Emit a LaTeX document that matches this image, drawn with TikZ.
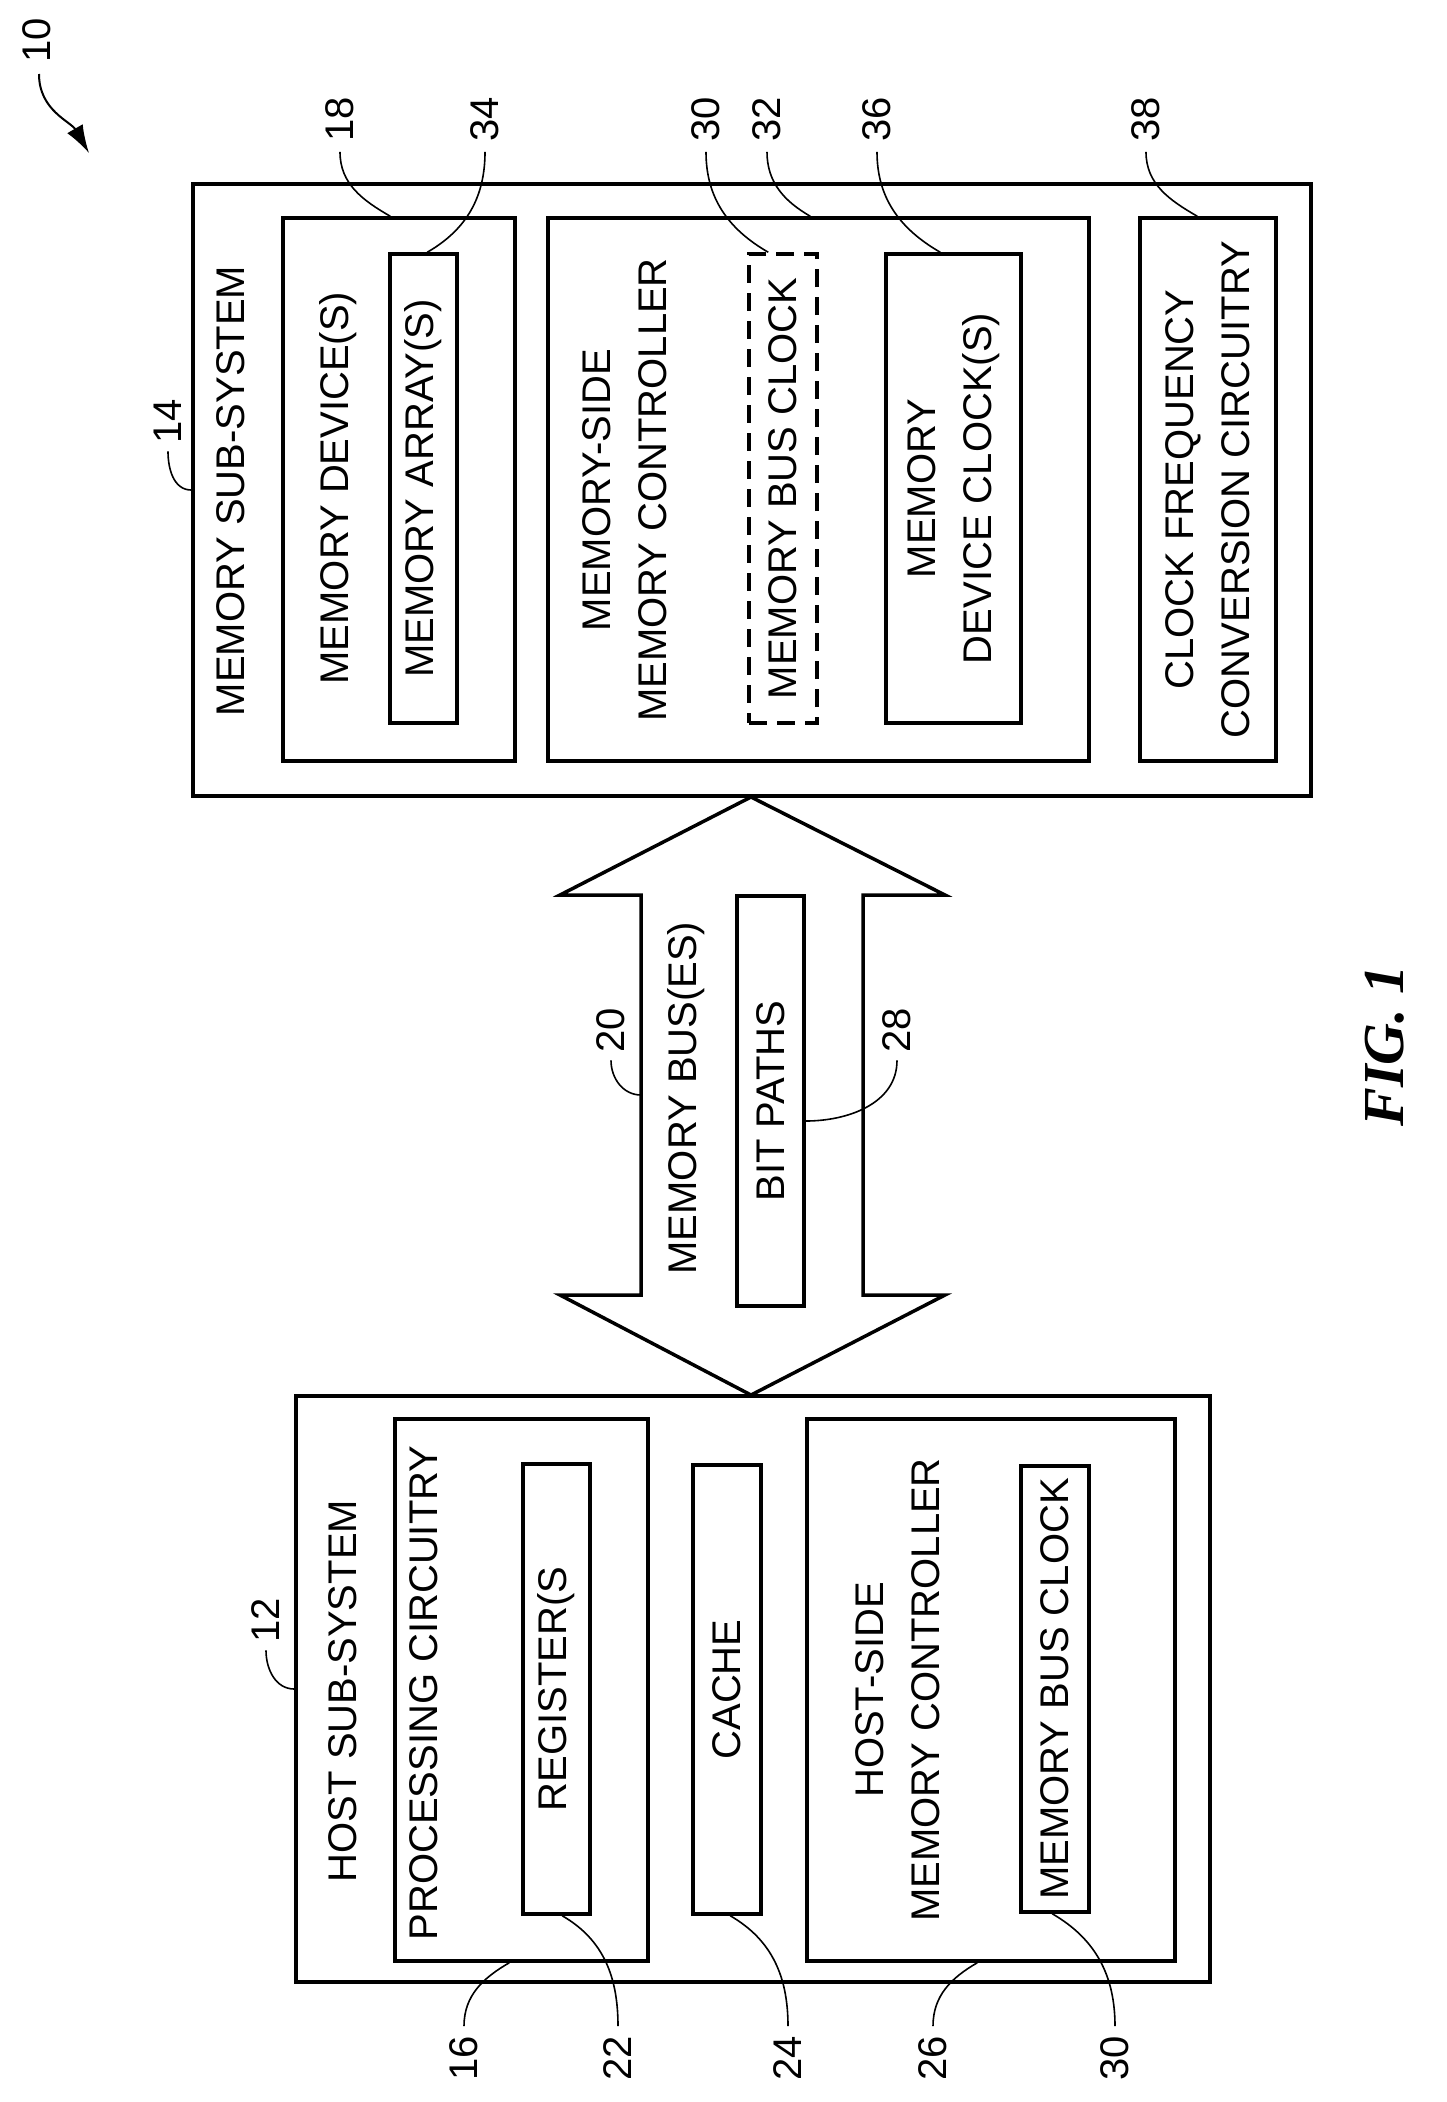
\documentclass[tikz,border=0pt]{standalone}
\usepackage{fontspec}
\setmainfont{Liberation Sans}
\newfontfamily\figserif{Liberation Serif}
\usetikzlibrary{arrows.meta}
\newcommand{\lw}{3.5pt}
\tikzstyle{boite}=[draw, line width=\lw, inner sep=0, minimum size=0]
\tikzstyle{texte}=[rotate=90, inner sep=0, align=center, font=\fontsize{40}{56}\selectfont]
\tikzstyle{renvoi}=[line width=1.6pt]
\tikzstyle{pointille}=[boite, dash pattern=on 18pt off 10pt]
\begin{document}
\begin{tikzpicture}[x=1pt,y=-1pt]
\useasboundingbox (0,0) rectangle (1446,2102);

%sous-systeme memoire
\node[boite, minimum width=1118pt, minimum height=612pt] (mem) at (752,490) {};
\node[boite, minimum width=232pt, minimum height=543pt] (dev) at (399,489.5) {};
\node[boite, minimum width=67pt, minimum height=469pt] (arr) at (423.5,488.5) {};
\node[boite, minimum width=541pt, minimum height=543pt] (ctl) at (818.5,489.5) {};
\node[pointille, minimum width=68pt, minimum height=469pt] (mbc) at (783,488.5) {};
\node[boite, minimum width=135pt, minimum height=469pt] (mdc) at (953.5,488.5) {};
\node[boite, minimum width=136pt, minimum height=543pt] (cfc) at (1208,489.5) {};

\node[texte] (tmem) at (231,491) {MEMORY SUB-SYSTEM};
\node[texte] (tdev) at (338,488) {MEMORY DEVICE(S)};
\node[texte] (tarr) at (arr) {MEMORY ARRAY(S)};
\node[texte] (tctl) at (625,490) {MEMORY-SIDE\\MEMORY CONTROLLER};
\node[texte] (tmbc) at (mbc) {MEMORY BUS CLOCK};
\node[texte] (tmdc) at (mdc) {MEMORY\\DEVICE CLOCK(S)};
\node[texte] (tcfc) at (cfc) {CLOCK FREQUENCY\\CONVERSION CIRCUITRY};

%bus
\draw[line width=\lw, join=miter] (751,797) -- (945,895) -- (863,895) -- (863,1295) -- (945,1295)
  -- (751,1395) -- (560,1295) -- (641,1295) -- (641,895) -- (560,895) -- cycle;
\coordinate (bus) at (641,1095);
\node[boite, minimum width=67pt, minimum height=410pt] (bp) at (770.5,1101) {};
\node[texte] (tbus) at (686,1098) {MEMORY BUS(ES)};
\node[texte] (tbp) at (bp) {BIT PATHS};

%sous-systeme hote
\node[boite, minimum width=914pt, minimum height=586pt] (host) at (753,1689) {};
\node[boite, minimum width=253pt, minimum height=542pt] (proc) at (521.5,1690) {};
\node[boite, minimum width=67pt, minimum height=450pt] (reg) at (556.5,1689) {};
\node[boite, minimum width=68pt, minimum height=449pt] (cache) at (727,1689.5) {};
\node[boite, minimum width=368pt, minimum height=542pt] (hctl) at (991,1690) {};
\node[boite, minimum width=68pt, minimum height=446pt] (hmbc) at (1055,1689) {};

\node[texte] (thost) at (343,1691) {HOST SUB-SYSTEM};
\node[texte] (tproc) at (424,1693) {PROCESSING CIRCUITRY};
\node[texte] (treg) at (reg) {REGISTER(S};
\node[texte] (tcache) at (cache) {CACHE};
\node[texte] (thctl) at (898,1690) {HOST-SIDE\\MEMORY CONTROLLER};
\node[texte] (thmbc) at (hmbc) {MEMORY BUS CLOCK};

%renvois
\node[texte] (l10) at (37,40) {10};
\draw[renvoi, line width=2pt, -{Latex[length=28pt,width=18pt]}] (39,74) to[out=-90,in=120] (89,153);

\foreach \N/\X/\B/\D/\A in {18/340/dev/109/150, 34/485/arr/39/30, 30/706/mbc/21/150,
  32/767/ctl/264/150, 36/877/mdc/56/150, 38/1146/cfc/59/150}
{\node[texte, anchor=east] (l\N) at (\X,97) {\N};
\draw[renvoi] (l\N.west) ++(0,10) to[out=-90,in=\A] ([xshift=\D pt]\B.north west);
}

\foreach \N/\X/\B/\D/\A in {16/464/proc/116/-150, 22/618/reg/41/-30, 24/788/cache/39/-30,
  26/933/hctl/172/-150, 30/1115/hmbc/33/-30}
{\node[texte, anchor=west] (b\N) at (\X,2081) {\N};
\draw[renvoi] (b\N.east) ++(0,-10) to[out=90,in=\A] ([xshift=\D pt]\B.south west);
}

\node[texte] (l14) at (168,421) {14};
\draw[renvoi] (l14.west) ++(0,8) to[out=-90,in=180] (mem.west);
\node[texte] (l12) at (266,1620) {12};
\draw[renvoi] (l12.west) ++(0,8) to[out=-90,in=180] (host.west);
\node[texte] (l20) at (611,1030) {20};
\draw[renvoi] (l20.west) ++(0,8) to[out=-90,in=180] (bus);
\node[texte] (l28) at (897,1030) {28};
\draw[renvoi] (l28.west) ++(0,8) to[out=-90,in=0] ([yshift=-20pt]bp.east);

\node[rotate=90, font=\figserif\bfseries\itshape\fontsize{58}{66}\selectfont] (fig) at (1385,1046) {FIG. 1};
\end{tikzpicture}
\end{document}
